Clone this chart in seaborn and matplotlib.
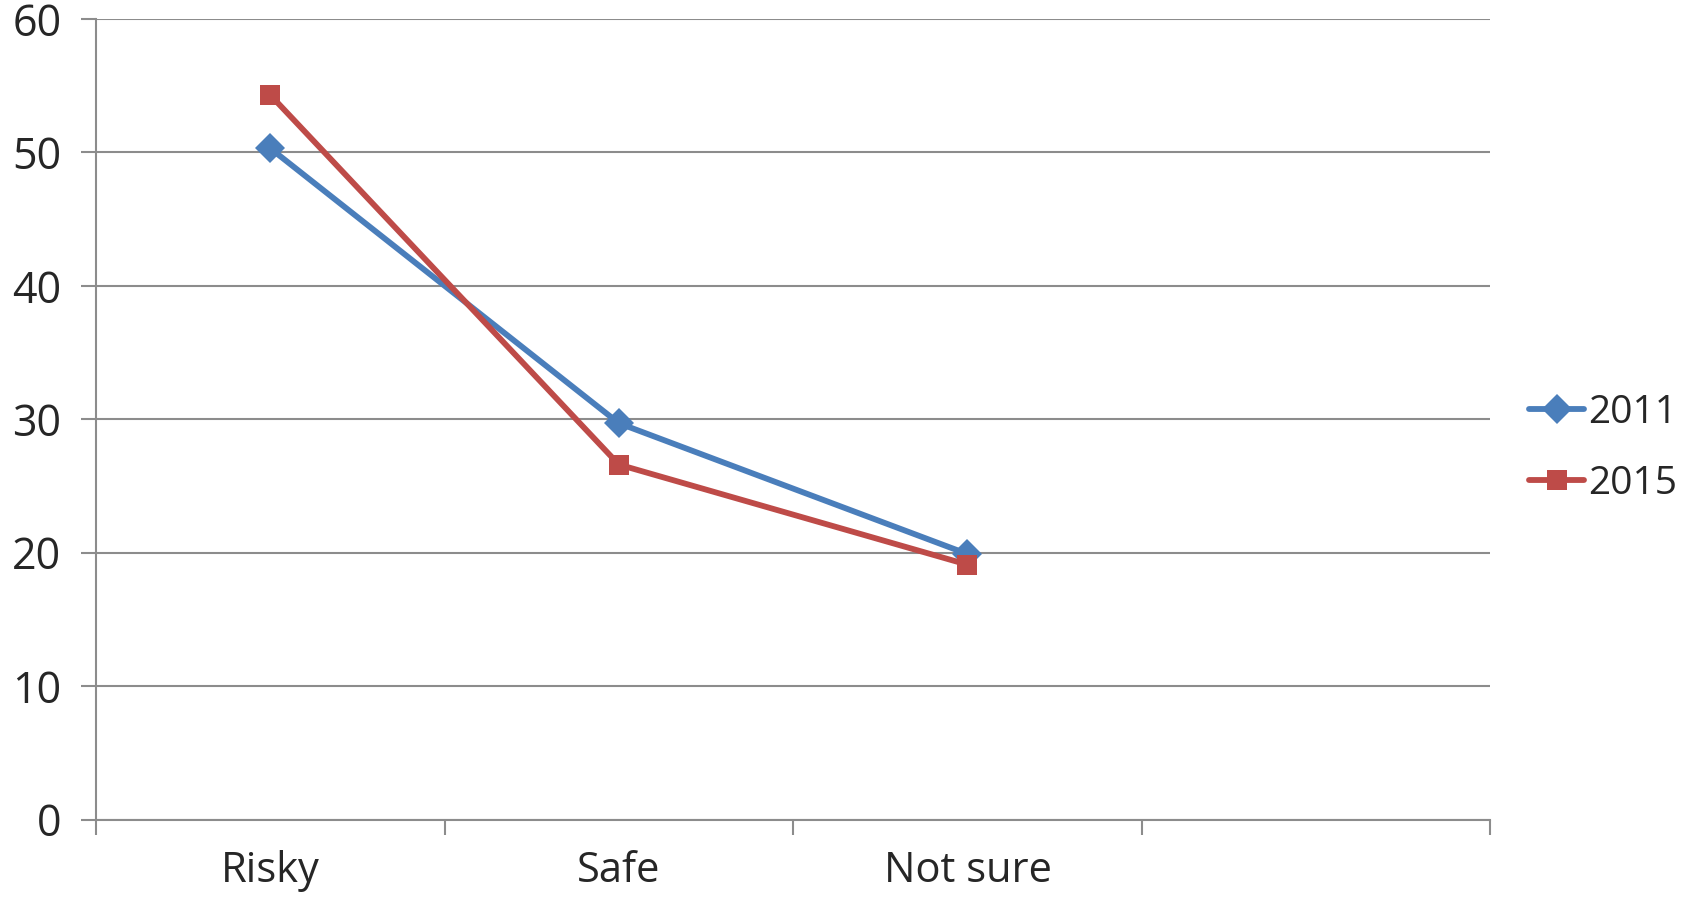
import matplotlib
matplotlib.use("Agg")
import matplotlib.pyplot as plt
import numpy as np
import pandas as pd
import seaborn as sns

categories = ["Risky", "Safe", "Not sure", ""]
years = ["2011", "2015"]
values_2011 = [50.3, 29.7, 19.9]
values_2015 = [54.3, 26.6, 19.1]
y_ticks = [0, 10, 20, 30, 40, 50, 60]

sns.set_theme(style="white")
plt.rcParams["font.family"] = ["Open Sans", "DejaVu Sans"]

rows = []
for year, vals in zip(years, [values_2011, values_2015]):
    for i, v in enumerate(vals):
        rows.append({"pos": i, "value": v, "year": year})
df = pd.DataFrame(rows)

fig = plt.figure(figsize=(16.84, 9), dpi=100)
ax = fig.add_axes([0.057, 0.0894, 0.828, 0.8896])

palette = {"2011": "#4A7EBB", "2015": "#BE4B48"}
sns.lineplot(
    data=df, x="pos", y="value", hue="year", style="year",
    markers={"2011": "D", "2015": "s"}, dashes=False,
    palette=palette, linewidth=4.2, markersize=15,
    markeredgewidth=0, ax=ax,
)

ax.set_xlim(-0.5, len(categories) - 0.5)
ax.set_ylim(0, 60)
ax.set_yticks(y_ticks)
ax.set_xticks(np.arange(len(categories) + 1) - 0.5)
ax.set_xticklabels([])
ax.set_xticks(np.arange(len(categories)), minor=True)
ax.set_xticklabels(categories, minor=True)
ax.tick_params(axis="x", which="major", length=11, width=1.5, color="#8C8C8C",
               direction="out", bottom=True)
ax.tick_params(axis="x", which="minor", length=0, pad=22, labelsize=30)
ax.tick_params(axis="y", length=11, width=1.5, color="#8C8C8C",
               direction="out", left=True, labelsize=31, pad=14)
ax.set_xlabel("")
ax.set_ylabel("")

ax.grid(axis="y", color="#8C8C8C", linewidth=1.5)
ax.set_axisbelow(True)
for side in ["top", "right"]:
    ax.spines[side].set_visible(False)
for side in ["left", "bottom"]:
    ax.spines[side].set_color("#8C8C8C")
    ax.spines[side].set_linewidth(1.5)

handles, labels = ax.get_legend_handles_labels()
ax.legend(handles, labels, loc="center left", bbox_to_anchor=(0.899, 0.502),
          bbox_transform=fig.transFigure, frameon=False, fontsize=28,
          handlelength=1.4, handletextpad=0.1, labelspacing=0.85,
          borderaxespad=0)

fig.savefig("out.png", dpi=100)
plt.close(fig)
